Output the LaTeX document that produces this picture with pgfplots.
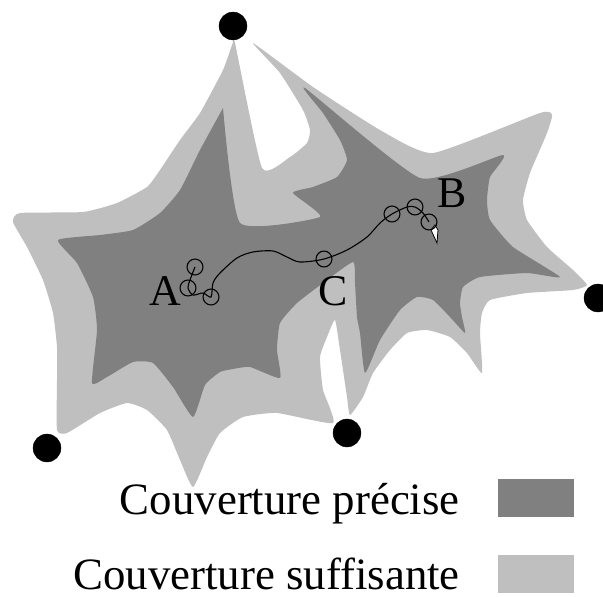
\documentclass[border=0pt]{standalone}
\usepackage{pgfplots}
\pgfplotsset{compat=1.18}
\usepackage{fontspec}
\setmainfont{Liberation Serif}
\definecolor{precise}{gray}{0.5}
\definecolor{suffisante}{gray}{0.75}

\begin{document}
\begin{tikzpicture}
\begin{axis}[
  width=603bp, height=597bp, scale only axis,
  xmin=0, xmax=603, ymin=0, ymax=597, y dir=reverse,
  hide axis, clip=true,
]
% couverture suffisante
\addplot[fill=suffisante, draw=none, smooth, tension=0.3] coordinates {
  (233,42) (235,43) (262,168) (290,157) (307,143) (310,130) (303,110) (280,73) (253,43)
  (313,87) (380,130) (433,153)
  (540,113) (552,115) (547,133) (530,173) (523,200) (527,220) (547,247) (573,270) (587,285)
  (573,290) (527,293) (490,300) (482,313) (480,333) (482,373)
  (467,353) (450,337) (427,330) (407,333) (390,350) (373,373) (363,397) (350,415)
  (347,397) (340,350) (335,320) (327,337) (320,357) (323,390) (333,423)
  (277,413) (243,417) (220,433) (207,457) (193,487)
  (180,460) (167,430) (147,410) (127,403) (100,413) (67,433) (57,430)
  (57,380) (57,347) (53,313) (43,280) (27,247) (13,222) (20,213) (83,212) (117,203)
  (147,187) (160,170) (180,140) (200,113) (223,70) (233,42)
} -- cycle;
% couverture precise
\addplot[fill=precise, draw=none, smooth, tension=0.3] coordinates {
  (223,108) (240,223) (320,217) (293,193) (313,187) (337,177) (347,160) (340,140) (323,113) (305,88)
  (420,178) (503,155) (490,177) (487,200) (490,220) (513,247) (560,277)
  (527,273) (480,277) (463,287) (460,303) (462,317) (465,333)
  (450,317) (433,300) (417,297) (400,310) (380,340) (365,373)
  (360,333) (357,317) (355,283) (353,262)
  (323,283) (297,303) (280,323) (277,350) (280,378)
  (250,367) (233,369) (220,372) (205,385) (193,417)
  (173,387) (153,363) (133,362) (107,377) (92,383)
  (97,330) (93,297) (77,263) (58,240)
  (100,235) (133,230) (160,213) (180,190) (200,150) (223,108)
} -- cycle;
% trajectoire
\addplot[black, line width=1.1pt, smooth] coordinates {
  (195,267) (190,280) (188,288) (193,295) (203,293) (211,297) (213,283) (220,273)
  (237,258) (253,252) (273,251) (287,257) (300,262) (324,259) (347,250) (367,237)
  (380,223) (392,214) (407,207) (415,207) (423,213) (429,222)
};
\addplot[only marks, mark=o, mark size=8, mark options={black, line width=1.1pt}] coordinates {
  (195,267) (188,288) (211,297) (324,259) (392,214) (415,207) (429,222)
};
\addplot[fill=white, draw=black, line width=0.8pt] coordinates {
  (431,230) (435,225) (438,230) (437,243)
} -- cycle;
% stations
\addplot[only marks, mark=*, mark size=14, mark options={black}] coordinates {
  (233,26) (47,448) (347,433) (598,298)
};
% legende
\addplot[fill=precise, draw=none] coordinates {(498,479) (574,479) (574,517) (498,517)} -- cycle;
\addplot[fill=suffisante, draw=none] coordinates {(498,555) (574,555) (574,593) (498,593)} -- cycle;
\node[anchor=base, font=\fontsize{44}{50}\selectfont] at (axis cs:165,305) {A};
\node[anchor=base, font=\fontsize{44}{50}\selectfont] at (axis cs:452,207) {B};
\node[anchor=base, font=\fontsize{44}{50}\selectfont] at (axis cs:333,305) {C};
\node[anchor=base east, inner sep=0pt, font=\fontsize{45}{50}\selectfont] at (axis cs:460,514) {Couverture précise};
\node[anchor=base east, inner sep=0pt, font=\fontsize{45}{50}\selectfont] at (axis cs:460,589) {Couverture suffisante};
\end{axis}
\pgfresetboundingbox
\useasboundingbox (current axis.south west) rectangle (current axis.north east);
\end{tikzpicture}
\end{document}
